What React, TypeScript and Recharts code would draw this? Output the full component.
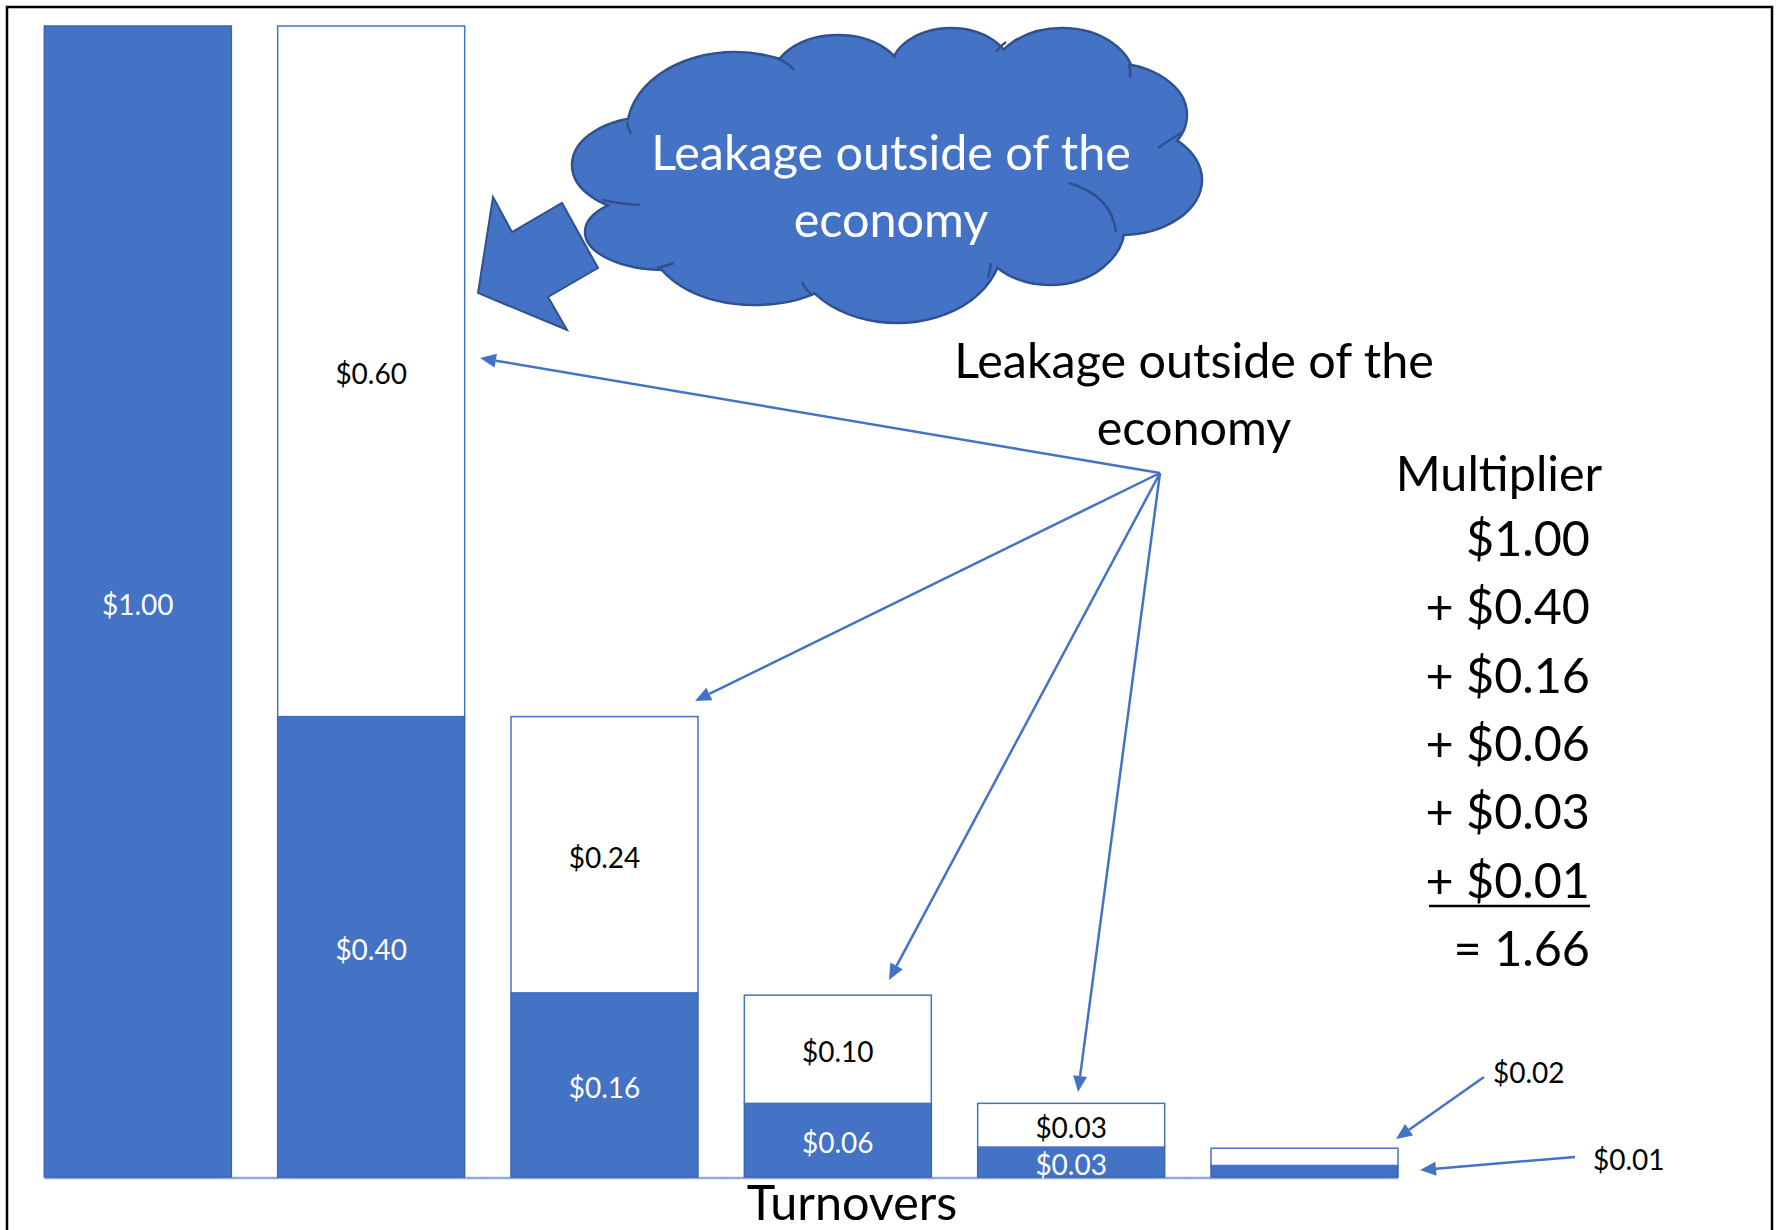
import React from "react";
import { BarChart, Bar, XAxis, YAxis } from "recharts";

const turnovers = ["1", "2", "3", "4", "5", "6"];
const respent = [1.0, 0.4, 0.16, 0.064, 0.026, 0.01];
const leaked = [0, 0.6, 0.24, 0.094, 0.038, 0.015];
const respentLabels = ["$1.00", "$0.40", "$0.16", "$0.06", "$0.03", ""];
const leakedLabels = ["", "$0.60", "$0.24", "$0.10", "$0.03", ""];
const multiplierLines = ["$1.00", "+ $0.40", "+ $0.16", "+ $0.06", "+ $0.03", "+ $0.01", "= 1.66"];

const W = 1787;
const H = 1230;
const BLUE = "#4472c4";
const DARK = "#2f528f";
const FONT = "Lato, 'Open Sans', sans-serif";
const BIG = 48.5;
const SMALL = 28;

const data = turnovers.map((t, i) => ({
  turn: t,
  idx: i,
  respent: respent[i],
  leaked: leaked[i],
}));

function SpentShape(p: any) {
  const { x, y, width, height, payload } = p;
  const i = payload.idx;
  const gap = width / 4;
  const x1 = i === 0 ? x : x - gap / 2;
  const x2 = i === turnovers.length - 1 ? x + width : x + width + gap / 2;
  const base = y + height;
  return (
    <g>
      <line x1={x1} x2={x2} y1={base + 1} y2={base + 1} stroke="#8eaadb" strokeWidth={2.5} />
      <rect x={x} y={y} width={width} height={height} fill={BLUE} stroke="#3b66b3" strokeWidth={1.5} />
      {respentLabels[i] && (
        <text x={x + width / 2} y={y + height / 2 + 13} textAnchor="middle" fill="#fff" fontSize={SMALL} fontFamily={FONT}>
          {respentLabels[i]}
        </text>
      )}
    </g>
  );
}

function LeakShape(p: any) {
  const { x, y, width, height, payload } = p;
  const i = payload.idx;
  if (!height || height <= 0) return null;
  return (
    <g>
      <rect x={x} y={y} width={width} height={height} fill="#fff" stroke={BLUE} strokeWidth={1.5} />
      {leakedLabels[i] && (
        <text x={x + width / 2} y={y + height / 2 + 13} textAnchor="middle" fill="#000" fontSize={SMALL} fontFamily={FONT}>
          {leakedLabels[i]}
        </text>
      )}
    </g>
  );
}

function Arrow({ x1, y1, x2, y2 }: { x1: number; y1: number; x2: number; y2: number }) {
  const a = Math.atan2(y2 - y1, x2 - x1);
  const len = 16;
  const hw = 7;
  const bx = x2 - len * Math.cos(a);
  const by = y2 - len * Math.sin(a);
  const px = -Math.sin(a) * hw;
  const py = Math.cos(a) * hw;
  return (
    <g>
      <line x1={x1} y1={y1} x2={bx} y2={by} stroke={BLUE} strokeWidth={2.5} />
      <polygon points={`${x2},${y2} ${bx + px},${by + py} ${bx - px},${by - py}`} fill={BLUE} />
    </g>
  );
}

const cloudBumps = [
  [650, 165, 78, 48],
  [665, 232, 80, 38],
  [755, 240, 105, 65],
  [897, 245, 105, 78],
  [1050, 225, 75, 60],
  [1120, 180, 82, 55],
  [1110, 115, 77, 52],
  [1062, 80, 72, 52],
  [951, 70, 60, 42],
  [838, 78, 65, 43],
  [735, 130, 108, 78],
  [890, 175, 240, 100],
];

const cloudCurls = [
  "M1069,183 Q1112,196 1116,232",
  "M1158,148 Q1172,138 1183,132",
  "M777,58 Q788,63 794,70",
  "M996,52 Q1000,46 1006,42",
  "M1129,64 Q1131,71 1130,78",
  "M991,263 Q990,271 988,278",
  "M802,282 Q806,290 812,295",
  "M657,268 Q666,266 674,263",
  "M640,205 Q620,204 602,200",
  "M627,122 Q628,128 631,134",
];

function Overlay() {
  const hub = { x: 1160, y: 473 };
  return (
    <svg width={W} height={H} style={{ position: "absolute", left: 0, top: 0, pointerEvents: "none" }}>
      <rect x={7} y={7} width={1765} height={1400} fill="none" stroke="#000" strokeWidth={2.5} />

      {/* cloud */}
      {cloudBumps.map(([cx, cy, rx, ry], i) =>
        i < cloudBumps.length - 1 ? (
          <ellipse key={"s" + i} cx={cx} cy={cy} rx={rx} ry={ry} fill={BLUE} stroke={DARK} strokeWidth={2.5} />
        ) : null
      )}
      {cloudBumps.map(([cx, cy, rx, ry], i) => (
        <ellipse key={"f" + i} cx={cx} cy={cy} rx={rx - 1.5} ry={ry - 1.5} fill={BLUE} />
      ))}
      {cloudCurls.map((d, i) => (
        <path key={"c" + i} d={d} fill="none" stroke={DARK} strokeWidth={2.5} />
      ))}
      <text x={891} y={170} textAnchor="middle" fill="#fff" fontSize={BIG} fontFamily={FONT}>
        Leakage outside of the
      </text>
      <text x={891} y={237} textAnchor="middle" fill="#fff" fontSize={BIG} fontFamily={FONT}>
        economy
      </text>

      {/* block arrow */}
      <polygon
        points="493,197 512,232 562,203 598,268 548,297 567,330 478,293"
        fill={BLUE}
        stroke={DARK}
        strokeWidth={2}
        strokeLinejoin="miter"
      />

      {/* leakage label and arrows */}
      <text x={1194} y={378} textAnchor="middle" fill="#000" fontSize={BIG} fontFamily={FONT}>
        Leakage outside of the
      </text>
      <text x={1194} y={445} textAnchor="middle" fill="#000" fontSize={BIG} fontFamily={FONT}>
        economy
      </text>
      <Arrow x1={hub.x} y1={hub.y} x2={480} y2={358} />
      <Arrow x1={hub.x} y1={hub.y} x2={695} y2={701} />
      <Arrow x1={hub.x} y1={hub.y} x2={889} y2={980} />
      <Arrow x1={hub.x} y1={hub.y} x2={1078} y2={1092} />
      <Arrow x1={1484} y1={1077} x2={1396} y2={1139} />
      <Arrow x1={1575} y1={1157} x2={1420} y2={1170} />
      <text x={1493} y={1083} fill="#000" fontSize={SMALL} fontFamily={FONT}>
        $0.02
      </text>
      <text x={1593} y={1170} fill="#000" fontSize={SMALL} fontFamily={FONT}>
        $0.01
      </text>

      {/* multiplier sum */}
      <text x={1499} y={491} textAnchor="middle" fill="#000" fontSize={BIG} fontFamily={FONT}>
        Multiplier
      </text>
      {multiplierLines.map((s, i) => (
        <text key={s + i} x={1590} y={556 + i * 68.3} textAnchor="end" fill="#000" fontSize={BIG} fontFamily={FONT}>
          {s}
        </text>
      ))}
      <line x1={1429} x2={1590} y1={906} y2={906} stroke="#000" strokeWidth={2.5} />

      <text x={852} y={1220} textAnchor="middle" fill="#000" fontSize={BIG} fontFamily={FONT}>
        Turnovers
      </text>
    </svg>
  );
}

export default function App() {
  return (
    <div style={{ position: "absolute", left: 0, top: 0, width: W, height: H, background: "#fff" }}>
      <BarChart
        width={W}
        height={H}
        data={data}
        margin={{ top: 26, right: 366, bottom: 53, left: 21 }}
        barCategoryGap="10%"
      >
        <XAxis dataKey="turn" hide />
        <YAxis hide domain={[0, 1]} />
        <Bar dataKey="respent" stackId="a" shape={SpentShape} isAnimationActive={false} />
        <Bar dataKey="leaked" stackId="a" shape={LeakShape} isAnimationActive={false} />
      </BarChart>
      <Overlay />
    </div>
  );
}
